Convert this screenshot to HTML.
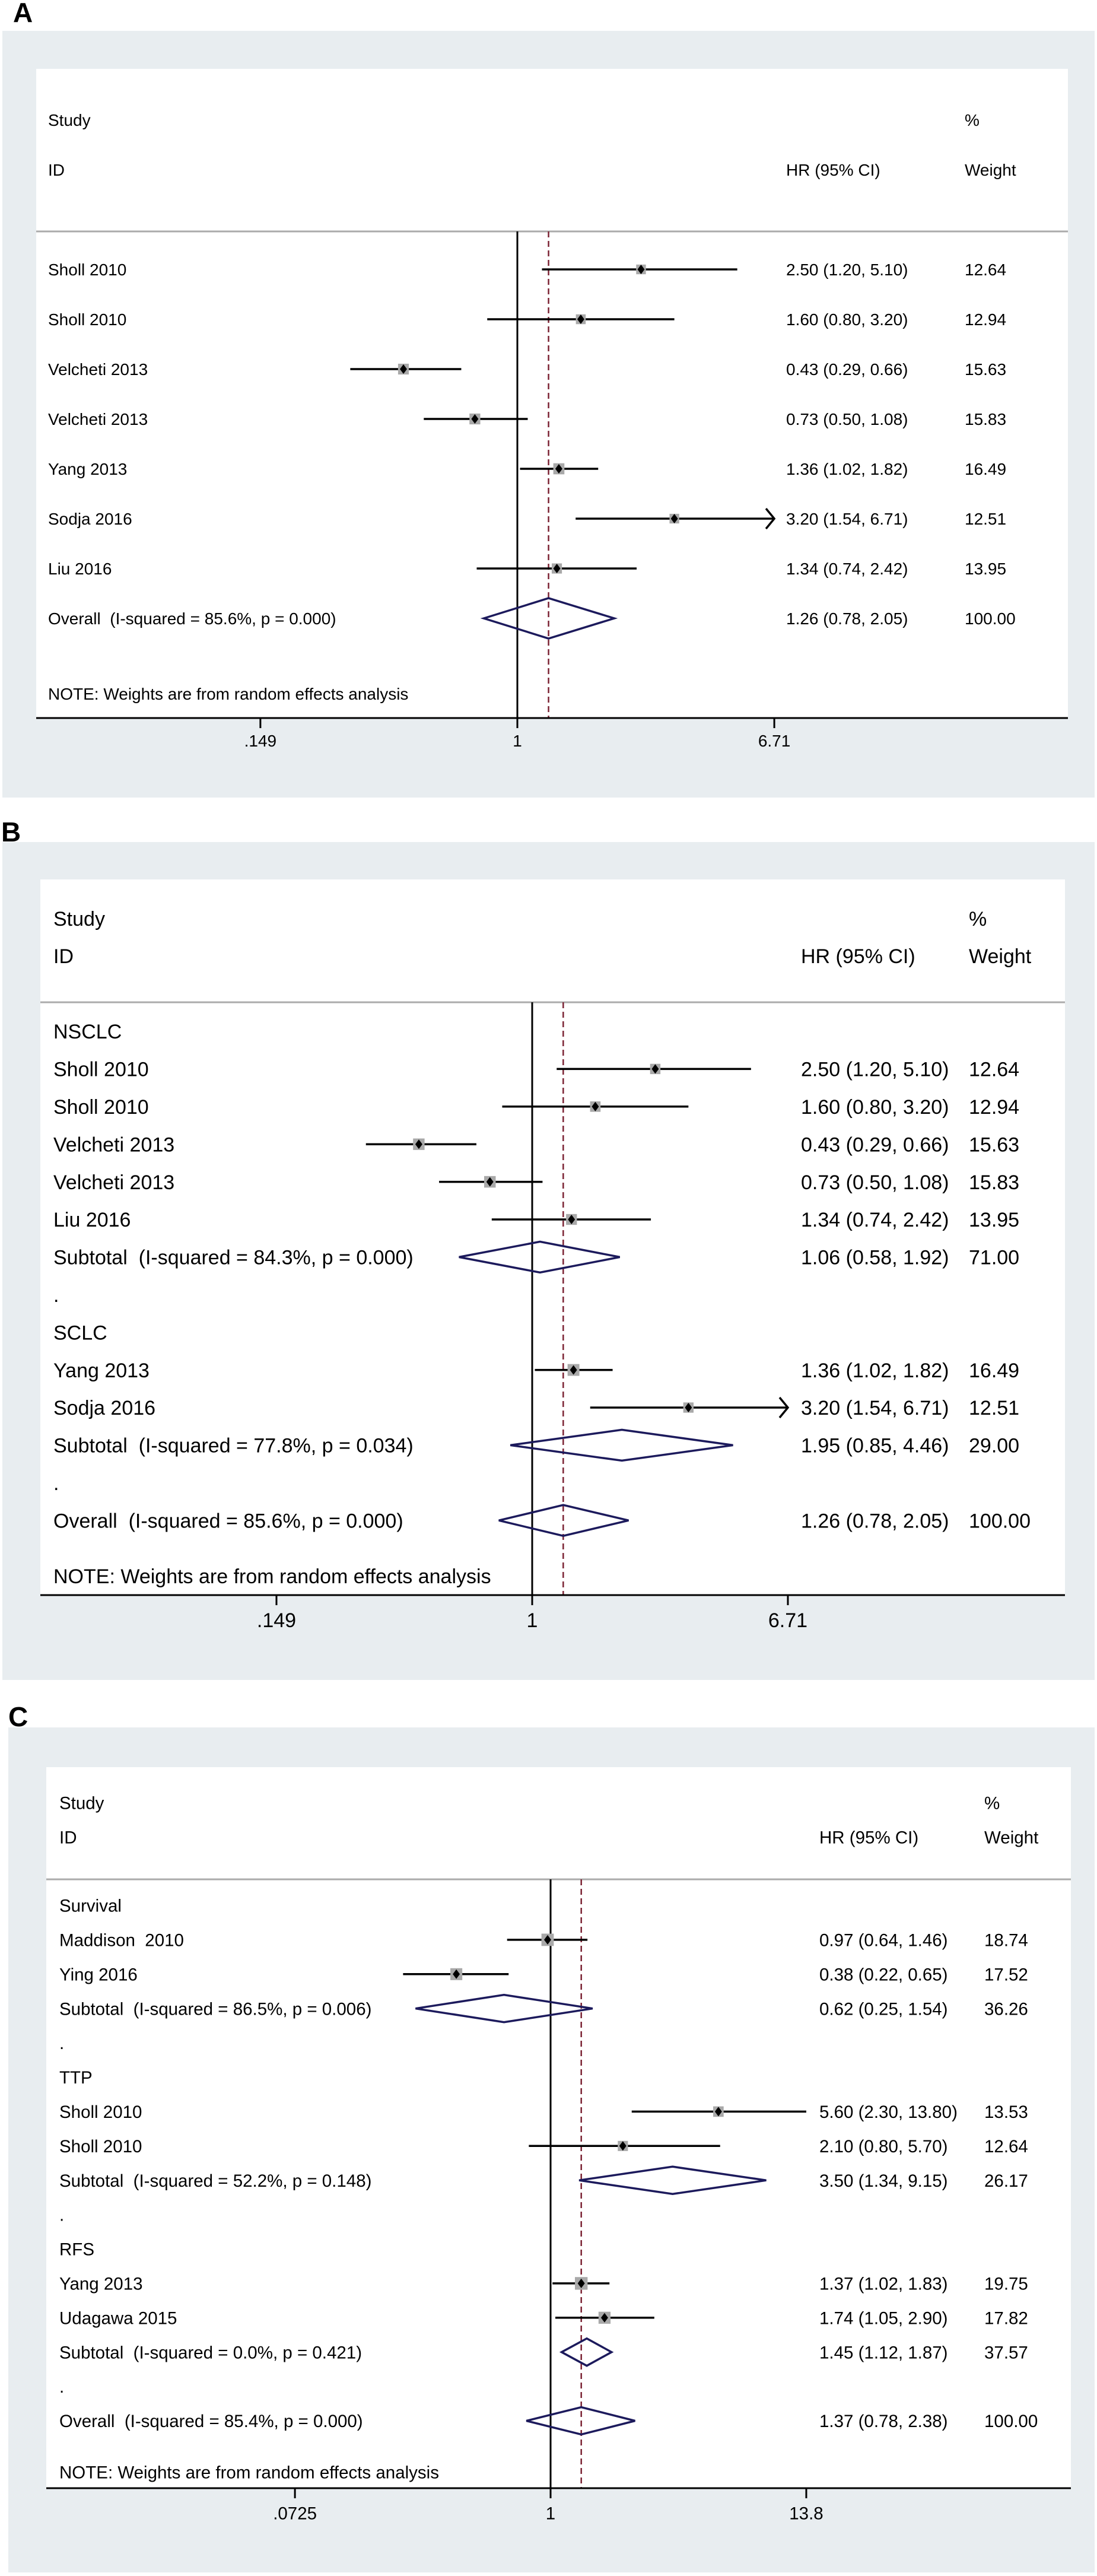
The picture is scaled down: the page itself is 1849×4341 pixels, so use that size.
<!DOCTYPE html>
<html>
<head>
<meta charset="utf-8">
<style>
html,body{margin:0;padding:0;background:#fff;}
svg{display:block;}
text{font-family:"Liberation Sans",Arial,sans-serif;fill:#000;white-space:pre;}
</style>
</head>
<body>
<svg id="fig" xmlns="http://www.w3.org/2000/svg" width="1849" height="4341" viewBox="0 0 1849 4341"></svg>
<script>
// ---------- Panel A data ----------
const aLabels = ["Sholl 2010","Sholl 2010","Velcheti 2013","Velcheti 2013","Yang 2013","Sodja 2016","Liu 2016","Overall  (I-squared = 85.6%, p = 0.000)"];
const aKinds  = ["s","s","s","s","s","s","s","o"];
const aHR     = [2.50,1.60,0.43,0.73,1.36,3.20,1.34,1.26];
const aLow    = [1.20,0.80,0.29,0.50,1.02,1.54,0.74,0.78];
const aHigh   = [5.10,3.20,0.66,1.08,1.82,6.71,2.42,2.05];
const aWeight = [12.64,12.94,15.63,15.83,16.49,12.51,13.95,100.00];
const aTicks  = [0.149,1,6.71];
const aTickLabels = [".149","1","6.71"];
const aPooled = 1.26;

// ---------- Panel B data ----------
const bLabels = ["NSCLC","Sholl 2010","Sholl 2010","Velcheti 2013","Velcheti 2013","Liu 2016","Subtotal  (I-squared = 84.3%, p = 0.000)",".","SCLC","Yang 2013","Sodja 2016","Subtotal  (I-squared = 77.8%, p = 0.034)",".","Overall  (I-squared = 85.6%, p = 0.000)"];
const bKinds  = ["g","s","s","s","s","s","o","g","g","s","s","o","g","o"];
const bHR     = [null,2.50,1.60,0.43,0.73,1.34,1.06,null,null,1.36,3.20,1.95,null,1.26];
const bLow    = [null,1.20,0.80,0.29,0.50,0.74,0.58,null,null,1.02,1.54,0.85,null,0.78];
const bHigh   = [null,5.10,3.20,0.66,1.08,2.42,1.92,null,null,1.82,6.71,4.46,null,2.05];
const bWeight = [null,12.64,12.94,15.63,15.83,13.95,71.00,null,null,16.49,12.51,29.00,null,100.00];
const bTicks  = [0.149,1,6.71];
const bTickLabels = [".149","1","6.71"];
const bPooled = 1.26;

// ---------- Panel C data ----------
const cLabels = ["Survival","Maddison  2010","Ying 2016","Subtotal  (I-squared = 86.5%, p = 0.006)",".","TTP","Sholl 2010","Sholl 2010","Subtotal  (I-squared = 52.2%, p = 0.148)",".","RFS","Yang 2013","Udagawa 2015","Subtotal  (I-squared = 0.0%, p = 0.421)",".","Overall  (I-squared = 85.4%, p = 0.000)"];
const cKinds  = ["g","s","s","o","g","g","s","s","o","g","g","s","s","o","g","o"];
const cHR     = [null,0.97,0.38,0.62,null,null,5.60,2.10,3.50,null,null,1.37,1.74,1.45,null,1.37];
const cLow    = [null,0.64,0.22,0.25,null,null,2.30,0.80,1.34,null,null,1.02,1.05,1.12,null,0.78];
const cHigh   = [null,1.46,0.65,1.54,null,null,13.80,5.70,9.15,null,null,1.83,2.90,1.87,null,2.38];
const cWeight = [null,18.74,17.52,36.26,null,null,13.53,12.64,26.17,null,null,19.75,17.82,37.57,null,100.00];
const cTicks  = [0.0725,1,13.8];
const cTickLabels = [".0725","1","13.8"];
const cPooled = 1.37;

const NS = "http://www.w3.org/2000/svg";
const svg = document.getElementById("fig");
function mk(tag, attrs, parent){
  const e = document.createElementNS(NS, tag);
  for (const k in attrs) e.setAttribute(k, attrs[k]);
  (parent||svg).appendChild(e);
  return e;
}

function panel(cfg, labels, kinds, hr, low, high, weight, ticks, tickLabels, pooled){
  const g = mk("g", {});
  
  
  const fs = cfg.fs;
  const base = c => c + fs*0.36;
  const xs = v => cfg.zeroX + Math.log(v)*cfg.pxPerLn;
  const xMax = xs(ticks[ticks.length-1]);
  const xMin = xs(ticks[0]);

  const lab = mk("text", {x:cfg.labX, y:cfg.labY, "font-size":46, "font-weight":"bold"}, g);
  
  
  lab.textContent = cfg.letter;

  const bg = mk("rect", {x:cfg.gx0, y:cfg.gy0, width:cfg.gx1-cfg.gx0, height:cfg.gy1-cfg.gy0, fill:"#e8edf0"}, g);
  
  
  const wb = mk("rect", {x:cfg.wx0, y:cfg.wy0, width:cfg.wx1-cfg.wx0, height:cfg.axisY-cfg.wy0, fill:"#fff"}, g);
  
  

  const hl = mk("line", {x1:cfg.wx0, x2:cfg.wx1, y1:cfg.headY, y2:cfg.headY, stroke:"#ababab", "stroke-width":3}, g);
  
  

  const heads = [["Study",cfg.textX,cfg.studyY,"header-study"],["ID",cfg.textX,cfg.idY,"header-id"],["%",cfg.wX,cfg.studyY,"header-percent"],["Weight",cfg.wX,cfg.idY,"header-weight"],["HR (95% CI)",cfg.hrX,cfg.idY,"header-hr"]];
  heads.forEach(h=>{
    const t = mk("text", {x:h[1], y:base(h[2]), "font-size":fs}, g);
    
    
    t.textContent = h[0];
  });

  const nl = mk("line", {x1:xs(1), x2:xs(1), y1:cfg.headY, y2:cfg.axisY, stroke:"#000", "stroke-width":3}, g);
  
  
  const pl = mk("line", {x1:xs(pooled), x2:xs(pooled), y1:cfg.headY, y2:cfg.axisY, stroke:"#7b2233", "stroke-width":2.5, "stroke-dasharray":"10 6"}, g);
  
  

  labels.forEach((L,i)=>{
    const y = cfg.row0 + i*cfg.step;
    const t = mk("text", {x:cfg.textX, y:base(y), "font-size":fs}, g);
    
    
    t.textContent = L;
    if (kinds[i]==="g" || hr[i]===null) return;
    const ht = mk("text", {x:cfg.hrX, y:base(y), "font-size":fs}, g);
    
    
    ht.textContent = hr[i].toFixed(2)+" ("+low[i].toFixed(2)+", "+high[i].toFixed(2)+")";
    const wt = mk("text", {x:cfg.wX, y:base(y), "font-size":fs}, g);
    
    
    wt.textContent = weight[i].toFixed(2);
    const xl = Math.max(xs(low[i]), xMin), xh = Math.min(xs(high[i]), xMax), xc = xs(hr[i]);
    if (kinds[i]==="s"){
      const ci = mk("line", {x1:xl, x2:xh, y1:y, y2:y, stroke:"#000", "stroke-width":3.5}, g);
      
      
      if (high[i] >= ticks[ticks.length-1] && cfg.arrow){
        const ar = mk("polyline", {points:(xh-14)+","+(y-17)+" "+xh+","+y+" "+(xh-14)+","+(y+17), fill:"none", stroke:"#000", "stroke-width":3.5}, g);
        
        
      }
      const s = cfg.k*Math.sqrt(weight[i]);
      const sq = mk("rect", {x:xc-s/2, y:y-s/2, width:s, height:s, fill:"#a9a9a9"}, g);
      
      
      const dm = mk("polygon", {points:(xc-6)+","+y+" "+xc+","+(y-8)+" "+(xc+6)+","+y+" "+xc+","+(y+8), fill:"#000"}, g);
      
      
    } else {
      const h = cfg.dh;
      const d = mk("polygon", {points:xl+","+y+" "+xc+","+(y-h)+" "+xh+","+y+" "+xc+","+(y+h), fill:"none", stroke:"#1c1a5c", "stroke-width":3.5}, g);
      
      
    }
  });

  const nt = mk("text", {x:cfg.textX, y:base(cfg.noteY), "font-size":fs}, g);
  
  
  nt.textContent = "NOTE: Weights are from random effects analysis";

  const ax = mk("line", {x1:cfg.wx0, x2:cfg.wx1, y1:cfg.axisY, y2:cfg.axisY, stroke:"#000", "stroke-width":3}, g);
  
  
  ticks.forEach((tv,i)=>{
    const x = xs(tv);
    const tk = mk("line", {x1:x, x2:x, y1:cfg.axisY, y2:cfg.axisY+17, stroke:"#000", "stroke-width":3}, g);
    
    
    const tl = mk("text", {x:x, y:base(cfg.tickLabY), "font-size":fs, "text-anchor":"middle"}, g);
    
    
    tl.textContent = tickLabels[i];
  });
}

panel({name:"panel-a", letter:"A", labX:22, labY:37, gx0:4, gy0:52, gx1:1845, gy1:1344, wx0:61, wy0:116, wx1:1800,
  headY:390, studyY:202, idY:286, textX:81, hrX:1325, wX:1626, row0:454, step:84, noteY:1169,
  zeroX:872, pxPerLn:227.5, axisY:1210, tickLabY:1248, fs:28, k:4.6, dh:34, arrow:true},
  aLabels, aKinds, aHR, aLow, aHigh, aWeight, aTicks, aTickLabels, aPooled);

panel({name:"panel-b", letter:"B", labX:2, labY:1418, gx0:4, gy0:1419, gx1:1845, gy1:2831, wx0:68, wy0:1482, wx1:1795,
  headY:1689, studyY:1548, idY:1611, textX:90, hrX:1350, wX:1633, row0:1738, step:63.4, noteY:2656,
  zeroX:897, pxPerLn:226.4, axisY:2688, tickLabY:2730, fs:34, k:4.9, dh:26, arrow:true},
  bLabels, bKinds, bHR, bLow, bHigh, bWeight, bTicks, bTickLabels, bPooled);

panel({name:"panel-c", letter:"C", labX:14, labY:2909, gx0:14, gy0:2911, gx1:1845, gy1:4335, wx0:78, wy0:2978, wx1:1805,
  headY:3167, studyY:3038, idY:3096, textX:100, hrX:1381, wX:1659, row0:3211, step:57.9, noteY:4166,
  zeroX:928, pxPerLn:164.2, axisY:4193, tickLabY:4235, fs:29.5, k:4.8, dh:23, arrow:false},
  cLabels, cKinds, cHR, cLow, cHigh, cWeight, cTicks, cTickLabels, cPooled);
</script>
</body>
</html>
